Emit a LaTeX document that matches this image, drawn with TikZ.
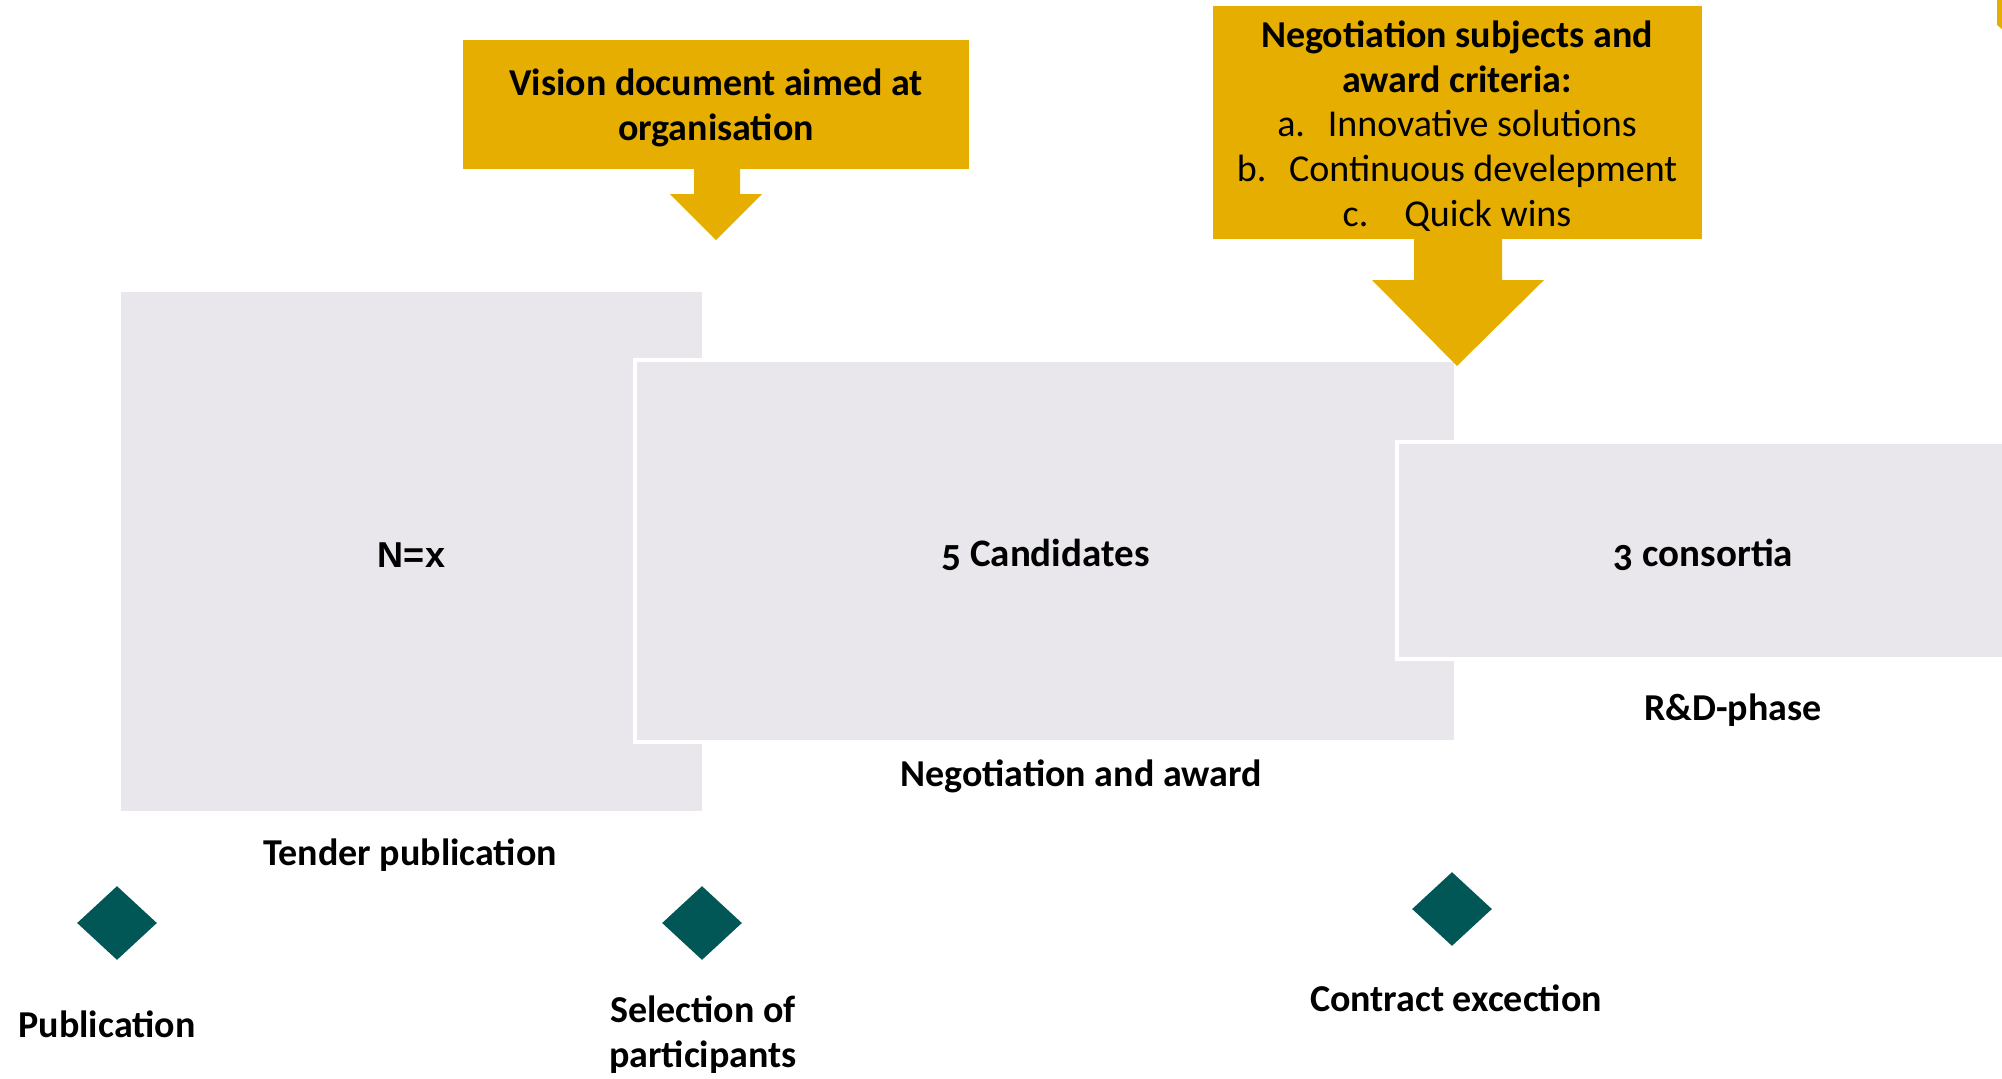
\documentclass[tikz,border=0pt]{standalone}
\usepackage{fontspec}
\setmainfont{Carlito}
\newfontfamily\arialfont{Liberation Sans}
\newfontfamily\oldnum[Numbers=OldStyle]{Carlito}
\usetikzlibrary{shapes.geometric}
\definecolor{gold}{RGB}{230,174,0}
\definecolor{panel}{RGB}{233,231,235}
\definecolor{tealdia}{RGB}{1,87,85}
\begin{document}
\begin{tikzpicture}[x=0.5pt,y=-0.5pt,
  txt/.style={font=\fontsize{19}{22.4}\selectfont, inner sep=0pt, align=center},
  btxt/.style={font=\bfseries\fontsize{19}{22.4}\selectfont, inner sep=0pt, align=center},
  panelbox/.style={fill=panel, inner sep=0pt},
  framed/.style={panelbox, draw=white, line width=1.6pt},
  milestone/.style={diamond, fill=tealdia, inner sep=0pt, minimum width=40pt, minimum height=37pt},
  goldfill/.style={fill=gold}]
\useasboundingbox (0,0) rectangle (2002,1078);
\clip (0,0) rectangle (2002,1078);

% top-right sliver
\fill[goldfill] (1997,0) -- (2003,0) -- (2003,30) -- (1997,25) -- cycle;

% phase panels
\node[panelbox, minimum width=290.5pt, minimum height=259.5pt] (p1) at (411.5,551.5) {};
\node[framed, minimum width=410.5pt, minimum height=191pt] (p2) at (1045.5,551) {};
\node[framed, minimum width=306.5pt, minimum height=108.5pt] (p3) at (1703.5,550.5) {};

\node[inner sep=0pt, font=\arialfont\bfseries\fontsize{18}{22}\selectfont] (nx) at ([yshift=-2pt]p1.center) {N=x};
\node[btxt, font=\oldnum\bfseries\fontsize{19.5}{22.4}\selectfont] (cand) at ([yshift=-2pt]p2.center) {5 Candidates};
\node[btxt, font=\oldnum\bfseries\fontsize{19.5}{22.4}\selectfont] (cons) at ([yshift=-2pt]p3.center) {3 consortia};

\node[btxt] (tp) at (410,855) {Tender publication};
\node[btxt] (na) at (1081,776) {Negotiation and award};
\node[btxt] (rd) at (1733,710) {R\&D-phase};

% vision callout
\fill[goldfill] (463,40) rectangle (969,169);
\node[btxt] (vision) at (716,108) {Vision document aimed at\\organisation};
\coordinate (vtip) at (716,240);
\fill[goldfill] (694,168) -- (740,168) -- (740,194) -- (762,194) -- (vtip) -- (670,194) -- (694,194) -- cycle;

% negotiation callout
\fill[goldfill] (1213,6) rectangle (1702,239);
\node[txt] (neg) at (1457,126) {\textbf{Negotiation subjects and}\\\textbf{award criteria:}\\a.\hspace{0.6em}Innovative solutions\\b.\hspace{0.6em}Continuous develepment\\c.\hspace{0.95em}Quick wins};
\coordinate (ntip) at (1457,366);
\fill[goldfill] (1414,238) -- (1502,238) -- (1502,280) -- (1544,280) -- (ntip) -- (1372,280) -- (1414,280) -- cycle;

% milestones
\node[milestone] (m1) at (117,923) {};
\node[milestone] (m2) at (702,923) {};
\node[milestone] (m3) at (1452,909) {};

\node[btxt] (l1) at (107,1024) {Publication};
\node[btxt] (l2) at (703,1035) {Selection of\\participants};
\node[btxt] (l3) at (1456,998) {Contract excection};
\end{tikzpicture}
\end{document}
